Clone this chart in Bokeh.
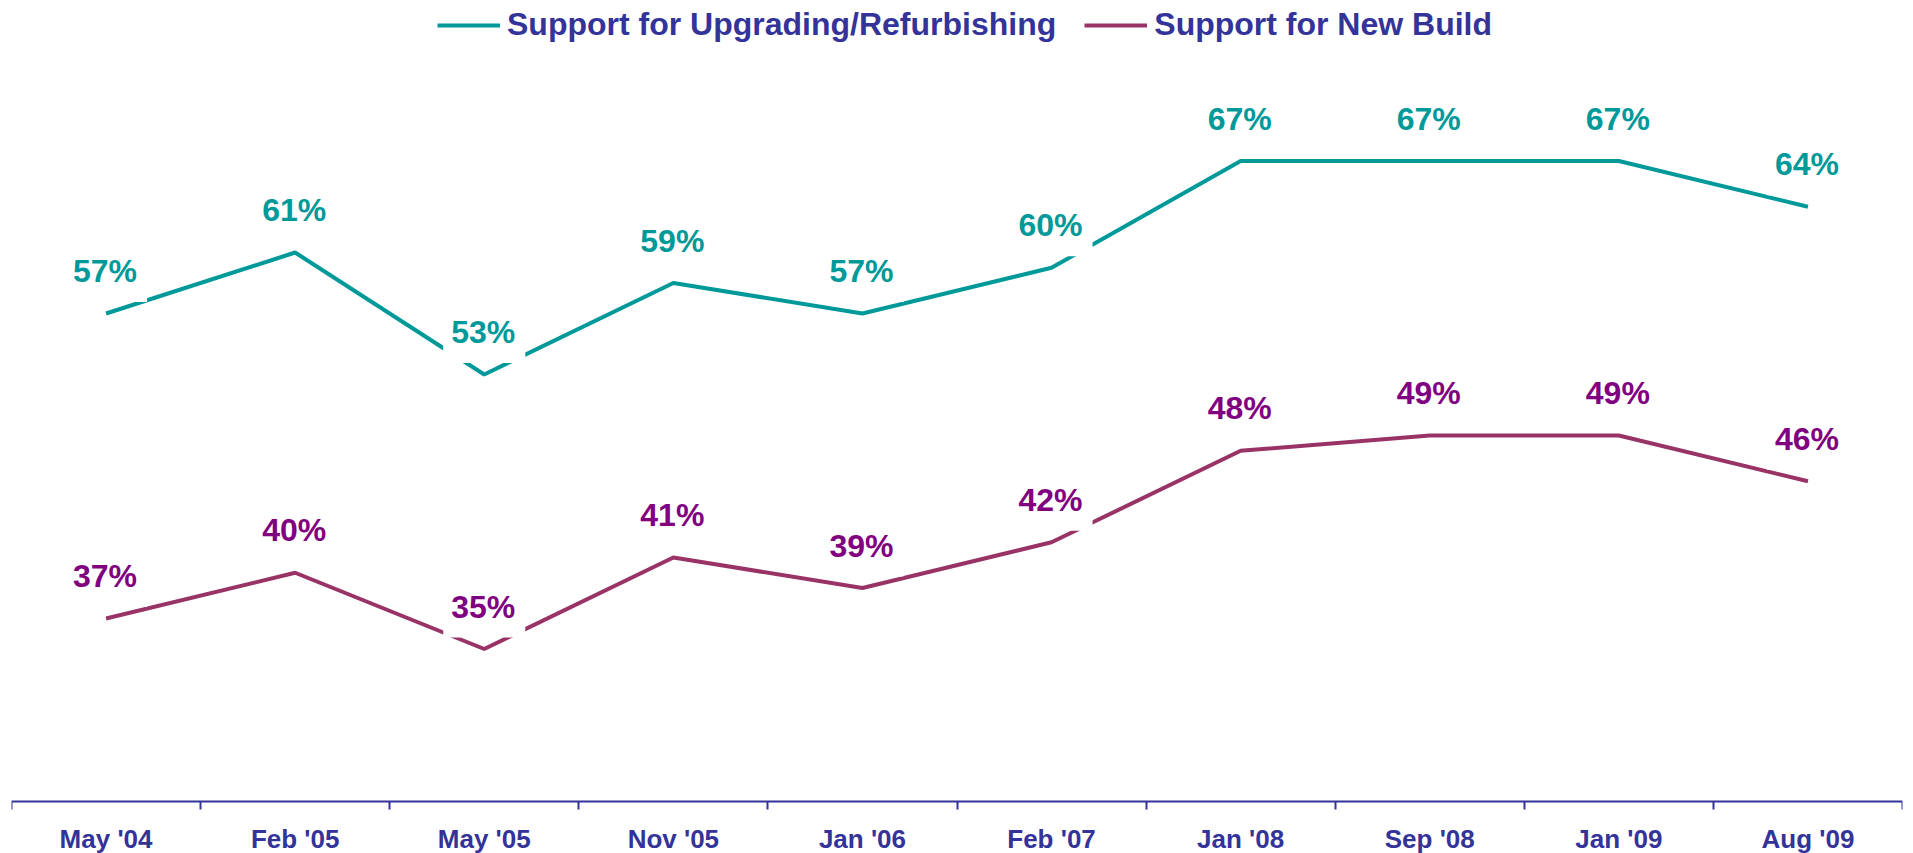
from bokeh.plotting import figure
from bokeh.models import Range1d, LinearAxis, FixedTicker, ColumnDataSource, Legend, LegendItem
from bokeh.core.properties import value
from bokeh.embed import file_html
from bokeh.resources import INLINE

months = ["May '04", "Feb '05", "May '05", "Nov '05", "Jan '06",
          "Feb '07", "Jan '08", "Sep '08", "Jan '09", "Aug '09"]
upgrading = [57, 61, 53, 59, 57, 60, 67, 67, 67, 64]
new_build = [37, 40, 35, 41, 39, 42, 48, 49, 49, 46]
series_names = ["Support for Upgrading/Refurbishing", "Support for New Build"]

TEAL = "#009999"
MAROON = "#993366"
PURPLE = "#800080"
NAVY = "#333399"
FONT = "Liberation Sans"

n = len(months)
xs = [i + 0.5 for i in range(n)]

W, H = 1905, 853
axis_px = 801          # screen y of the x axis inside the figure
px_per_unit = 15.25
y_base = 25
y_end = y_base + axis_px / px_per_unit
y_start = y_base - (H - axis_px) / px_per_unit

p = figure(width=W, height=H, output_backend="svg", toolbar_location=None,
           x_axis_location=None, y_axis_location=None,
           x_range=Range1d(0, n), y_range=Range1d(y_start, y_end),
           min_border_left=11, min_border_right=3, min_border_top=0, min_border_bottom=0)
p.outline_line_color = None
p.grid.visible = False
p.background_fill_color = "white"
p.border_fill_color = "white"

src = ColumnDataSource(dict(
    x=xs, up=upgrading, nb=new_build,
    up_lbl=[f"{v}%" for v in upgrading],
    nb_lbl=[f"{v}%" for v in new_build],
))

r_up = p.line("x", "up", source=src, line_color=TEAL, line_width=4)
r_nb = p.line("x", "nb", source=src, line_color=MAROON, line_width=4)

pad = dict(left=8, right=10, top=0, bottom=13)
for col, ycol, color in [("up_lbl", "up", TEAL), ("nb_lbl", "nb", PURPLE)]:
    p.text("x", ycol, text=col, source=src, text_color=color,
           text_font=value(FONT), text_font_size="32px", text_font_style="bold",
           text_align="center", text_baseline="alphabetic", y_offset=-36,
           background_fill_color="white", padding=pad)

# axis line with boundary ticks
ax_ticks = LinearAxis(ticker=FixedTicker(ticks=list(range(n + 1))), fixed_location=y_base)
ax_ticks.axis_line_color = NAVY
ax_ticks.axis_line_width = 2
ax_ticks.major_tick_line_color = NAVY
ax_ticks.major_tick_line_width = 2
ax_ticks.major_tick_out = 8
ax_ticks.major_tick_in = 0
ax_ticks.minor_tick_line_color = None
ax_ticks.major_label_text_alpha = 0
ax_ticks.major_label_text_font_size = "1px"
p.add_layout(ax_ticks, "below")

# category labels centred between ticks
ax_lbl = LinearAxis(ticker=FixedTicker(ticks=xs), fixed_location=y_base)
ax_lbl.axis_line_color = None
ax_lbl.major_tick_line_color = None
ax_lbl.minor_tick_line_color = None
ax_lbl.major_tick_out = 0
ax_lbl.major_tick_in = 0
ax_lbl.major_label_overrides = {x: m for x, m in zip(xs, months)}
ax_lbl.major_label_standoff = 22
ax_lbl.major_label_text_font = FONT
ax_lbl.major_label_text_font_size = "26px"
ax_lbl.major_label_text_font_style = "bold"
ax_lbl.major_label_text_color = NAVY
p.add_layout(ax_lbl, "below")

legend = Legend(items=[LegendItem(label=series_names[0], renderers=[r_up]),
                       LegendItem(label=series_names[1], renderers=[r_nb])],
                orientation="horizontal", location=(426, 810),
                label_text_font=FONT, label_text_font_size="32px",
                label_text_font_style="bold", label_text_color=NAVY,
                glyph_width=63, glyph_height=32, label_height=32,
                label_standoff=7, spacing=28, padding=0, margin=0,
                border_line_color=None, background_fill_alpha=0)
p.add_layout(legend, "center")

open("out.html", "w").write(file_html(p, INLINE))
